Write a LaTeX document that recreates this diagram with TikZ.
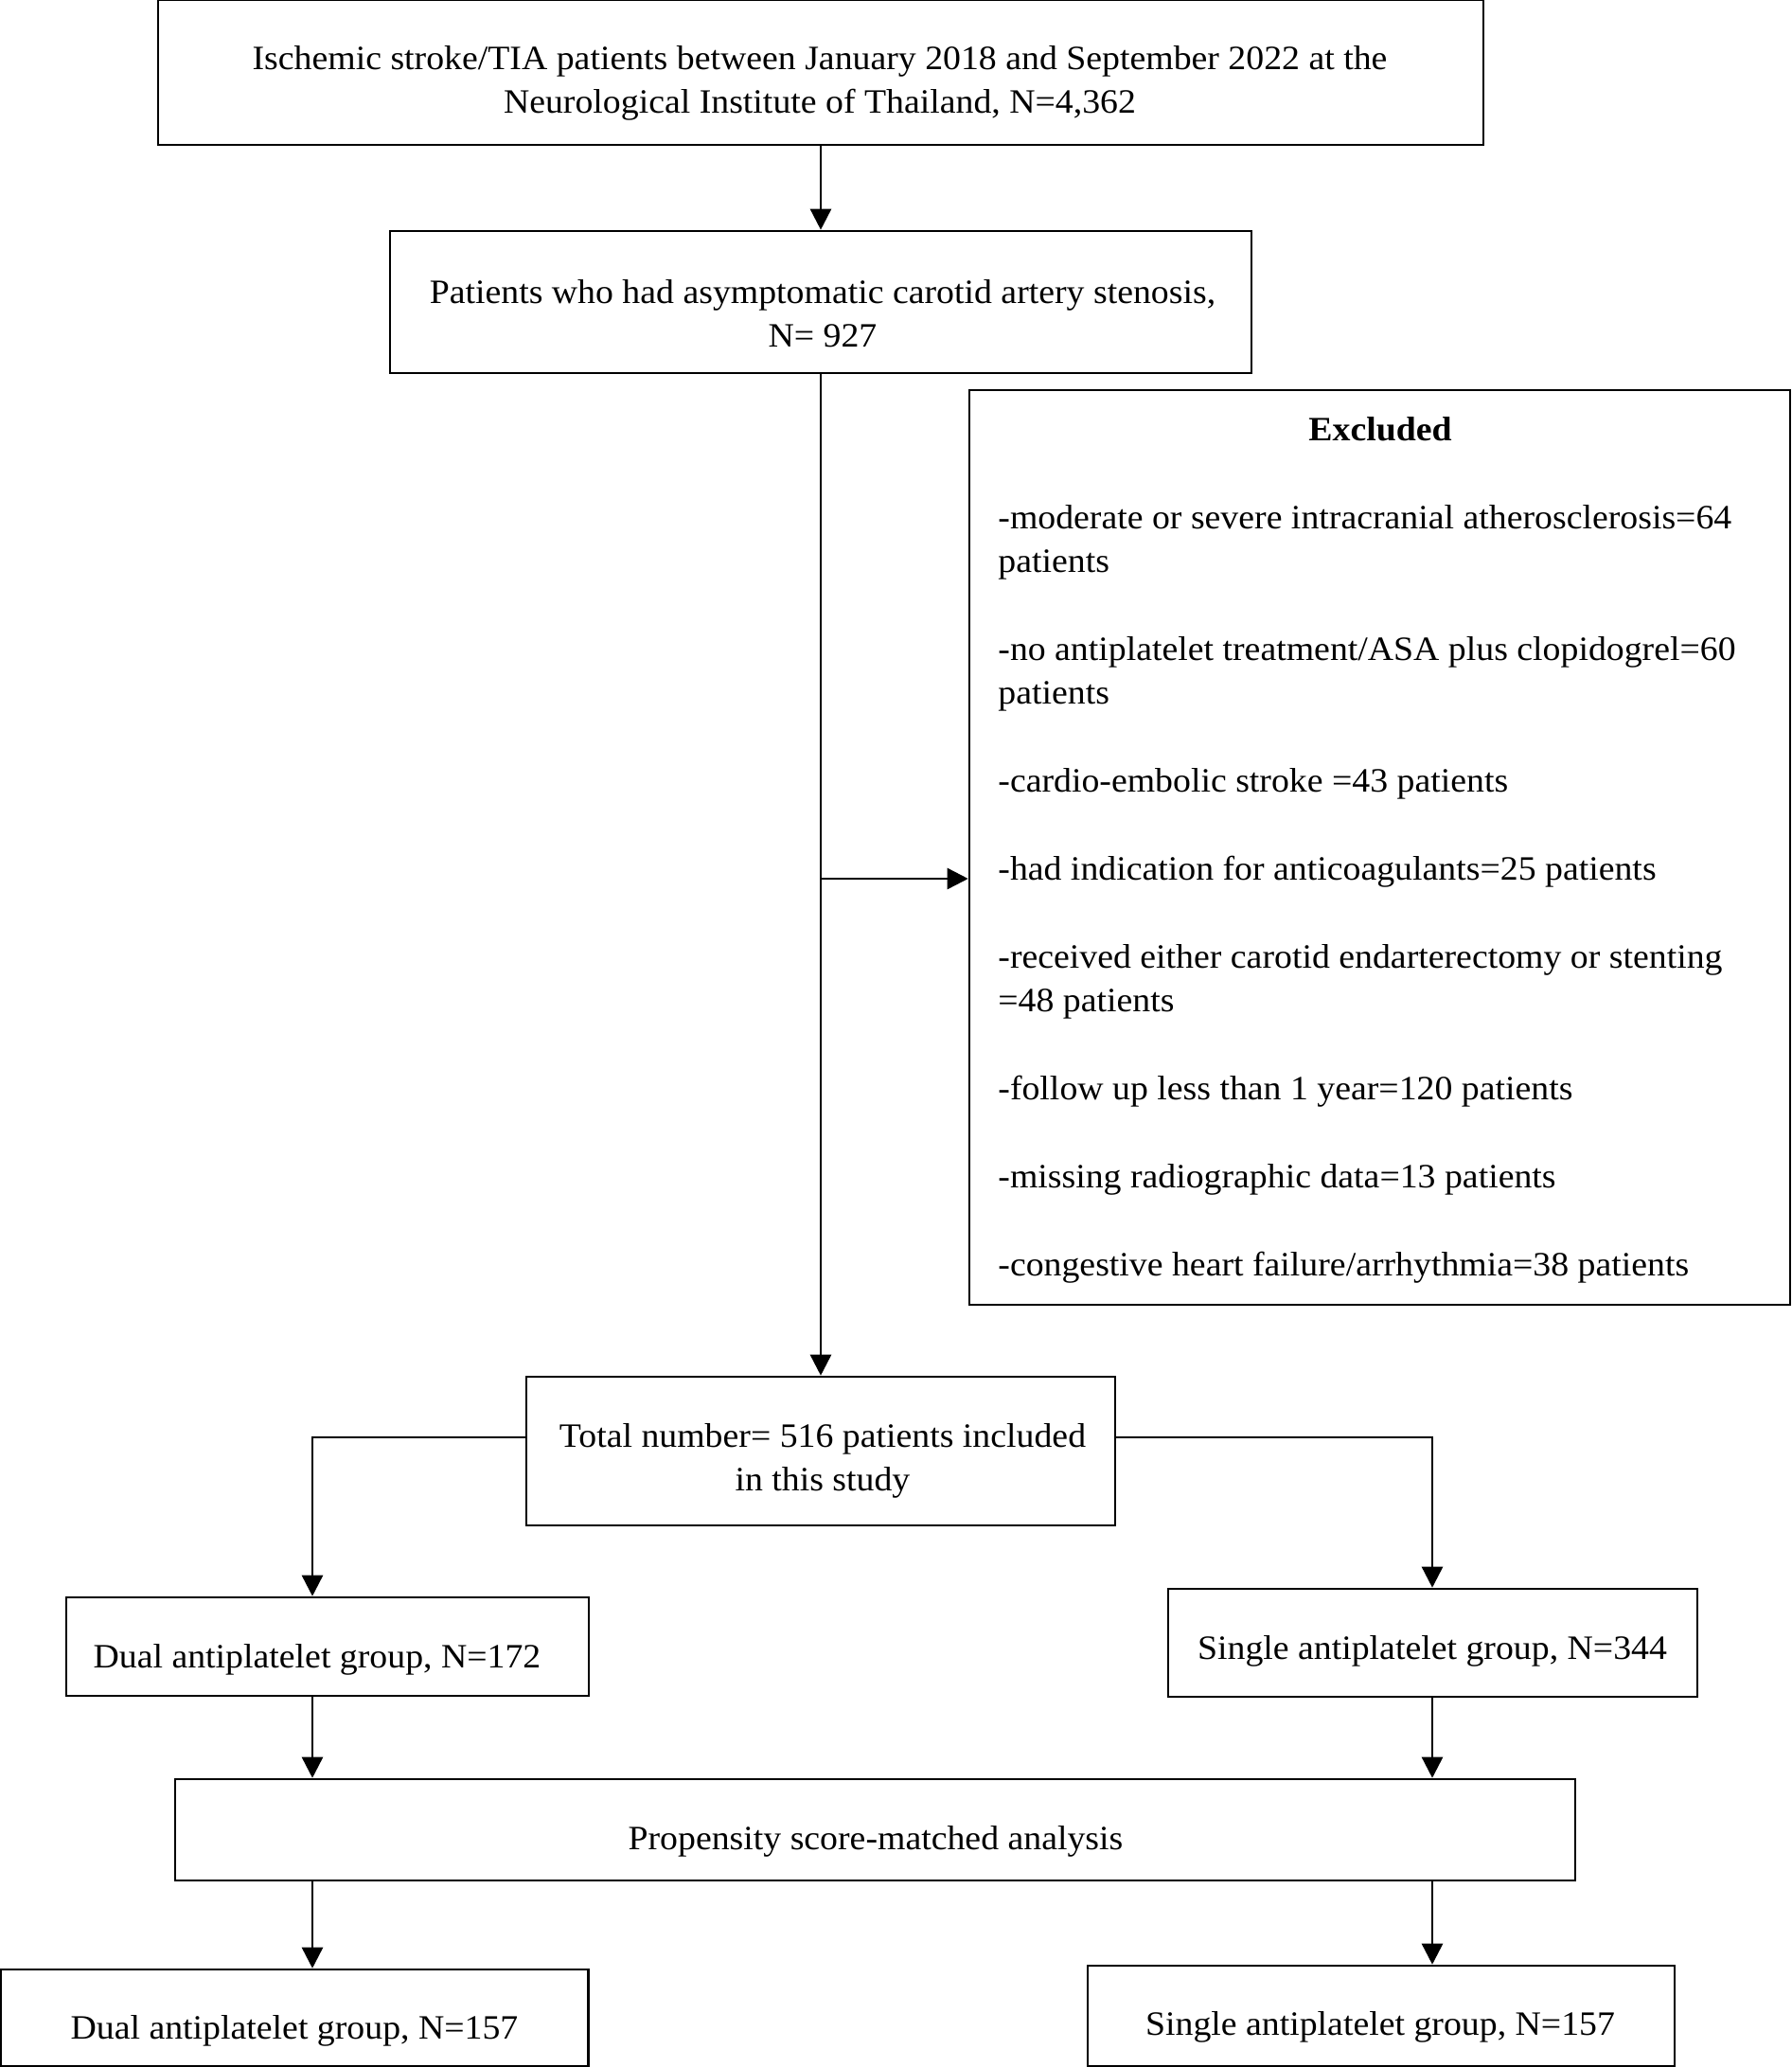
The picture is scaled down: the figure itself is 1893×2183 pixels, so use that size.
\documentclass[tikz,border=0pt]{standalone}
\usepackage{fontspec}
\setmainfont{Liberation Serif}[FakeStretch=1.05]
\usetikzlibrary{arrows.meta}
\begin{document}
\begin{tikzpicture}[x=0.5pt,y=-0.5pt,
  box/.style={draw=black, line width=1.3pt, inner sep=0pt},
  txt/.style={font=\fontsize{18}{23.2}\selectfont, align=center, inner sep=0pt},
  arr/.style={line width=1.3pt, -{Triangle[length=11pt,width=11pt]}}]
\useasboundingbox (0,0) rectangle (1893,2183);
% boxes
\node[box, minimum width=700pt, minimum height=76.5pt] (b1) at (867,76.5) {};
\node[txt] (t1) at (866,88) {Ischemic stroke/TIA patients between January 2018 and September 2022 at the\\Neurological Institute of Thailand, N=4,362};
\node[box, minimum width=455pt, minimum height=75pt] (b2) at (867,319) {};
\node[txt] (t2) at (869,331) {Patients who had asymptomatic carotid artery stenosis,\\N= 927};
\node[box, minimum width=433.5pt, minimum height=483pt] (ex) at (1457.5,895) {};
\node[txt, font=\fontsize{18}{23.2}\selectfont\bfseries] (exh) at (1458,453) {Excluded};
\node[txt, align=left, anchor=north west] (exl) at (1054,533) {-moderate or severe intracranial atherosclerosis=64\\patients\\[23.2pt]
-no antiplatelet treatment/ASA plus clopidogrel=60\\patients\\[23.2pt]
-cardio-embolic stroke =43 patients\\[23.2pt]
-had indication for anticoagulants=25 patients\\[23.2pt]
-received either carotid endarterectomy or stenting\\=48 patients\\[23.2pt]
-follow up less than 1 year=120 patients\\[23.2pt]
-missing radiographic data=13 patients\\[23.2pt]
-congestive heart failure/arrhythmia=38 patients};
\node[box, minimum width=311pt, minimum height=78.5pt] (b3) at (867,1532.5) {};
\node[txt] (t3) at (869,1543) {Total number= 516 patients included\\in this study};
\node[box, minimum width=276pt, minimum height=52pt] (b4) at (346,1739) {};
\node[txt] (t4) at (335,1753) {Dual antiplatelet group, N=172};
\node[box, minimum width=279.5pt, minimum height=57pt] (b5) at (1513.5,1735) {};
\node[txt] (t5) at (1513,1744) {Single antiplatelet group, N=344};
\node[box, minimum width=739.5pt, minimum height=53.5pt] (b6) at (924.5,1932.5) {};
\node[txt] (t6) at (925,1945) {Propensity score-matched analysis};
\node[box, minimum width=310.5pt, minimum height=51pt] (b7) at (311,2131) {};
\node[txt] (t7) at (311,2145) {Dual antiplatelet group, N=157};
\node[box, minimum width=310pt, minimum height=53pt] (b8) at (1459,2129) {};
\node[txt] (t8) at (1458,2141) {Single antiplatelet group, N=157};
% connectors
\coordinate (j) at (867,928);
\coordinate (bl) at (330,1518);
\coordinate (br) at (1513,1518);
\draw[arr] (b1.south) -- (b2.north);
\draw[arr] (b2.south) -- (b3.north);
\draw[arr] (j) -- (j -| ex.west);
\draw[arr] (bl -| b3.west) -- (bl) -- (bl |- b4.north);
\draw[arr] (br -| b3.east) -- (br) -- (br |- b5.north);
\draw[arr] (bl |- b4.south) -- (bl |- b6.north);
\draw[arr] (br |- b5.south) -- (br |- b6.north);
\draw[arr] (bl |- b6.south) -- (bl |- b7.north);
\draw[arr] (br |- b6.south) -- (br |- b8.north);
\end{tikzpicture}
\end{document}
